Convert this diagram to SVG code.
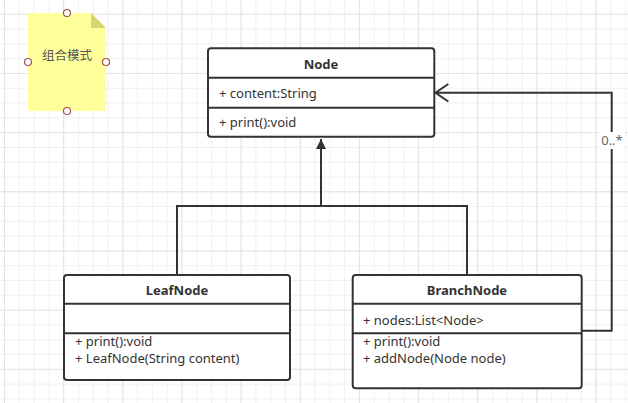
<svg xmlns="http://www.w3.org/2000/svg" width="628" height="403" viewBox="0 0 628 403">
<defs>
<pattern id="minor" x="4" y="13.8" width="14.79" height="14.79" patternUnits="userSpaceOnUse">
<path d="M0.5 0V14.79M0 0.5H14.79" stroke="#f0f0f0" stroke-width="1" fill="none"/>
</pattern>
<pattern id="major" x="4" y="13.8" width="59.16" height="59.16" patternUnits="userSpaceOnUse">
<path d="M0.5 0V59.16M0 0.5H59.16" stroke="#e4e4e4" stroke-width="1" fill="none"/>
</pattern>
<marker id="tri" viewBox="0 0 10 10" refX="10" refY="5" markerWidth="10" markerHeight="10" markerUnits="userSpaceOnUse" orient="auto">
<path d="M0 0L10 5L0 10Z" fill="#333"/>
</marker>
</defs>
<style>
.box{fill:#fff;stroke:#333;stroke-width:2}
.div{stroke:#333;stroke-width:2}
.t{font-family:"Noto Sans","Noto Sans CJK SC",sans-serif;font-size:13px;fill:#333}
.b{font-weight:bold;text-anchor:middle}
.edge{fill:none;stroke:#333;stroke-width:2}
.h{fill:#fff;stroke:#a05050;stroke-width:1.2}
</style>
<rect width="628" height="403" fill="#fff"/>
<rect width="628" height="403" fill="url(#minor)"/>
<rect width="628" height="403" fill="url(#major)"/>

<g id="note">
<path d="M28 13H91L106 28V111H28Z" fill="#ffff9c"/>
<path d="M91 13L106 28H91Z" fill="#d6d66e"/>
<text class="t" x="67" y="59.5" text-anchor="middle" style="fill:#555;font-size:12.5px">组合模式</text>
<circle class="h" cx="67" cy="13" r="3.5"/>
<circle class="h" cx="28" cy="62" r="3.5"/>
<circle class="h" cx="106" cy="62" r="3.5"/>
<circle class="h" cx="67" cy="111" r="3.5"/>
</g>

<g id="connectors">
<path class="edge" d="M177 275V206H467V275"/>
<path class="edge" d="M321 206V139" marker-end="url(#tri)"/>
<path class="edge" d="M582 330.7H611.7V92.7H436"/>
<path class="edge" d="M448.3 84L435.5 92.7L448.3 101.5"/>
<rect x="599" y="132" width="26" height="17" fill="#fff"/>
<text class="t" x="612" y="145" text-anchor="middle" style="fill:#666">0..*</text>
</g>

<g id="Node">
<rect class="box" x="208" y="48.3" width="226.3" height="88.4" rx="3"/>
<line class="div" x1="208" y1="77.7" x2="434.3" y2="77.7"/>
<line class="div" x1="208" y1="107.7" x2="434.3" y2="107.7"/>
<text class="t b" x="321" y="68.5">Node</text>
<text class="t" x="219" y="97.5">+ content:String</text>
<text class="t" x="219" y="126.5">+ print():void</text>
</g>

<g id="LeafNode">
<rect class="box" x="64" y="275" width="226" height="105" rx="3"/>
<line class="div" x1="64" y1="303.7" x2="290" y2="303.7"/>
<line class="div" x1="64" y1="333.3" x2="290" y2="333.3"/>
<text class="t b" x="177" y="294.5">LeafNode</text>
<text class="t" x="75" y="346">+ print():void</text>
<text class="t" x="75" y="362.5">+ LeafNode(String content)</text>
</g>

<g id="BranchNode">
<rect class="box" x="352.7" y="275" width="229" height="113.3" rx="3"/>
<line class="div" x1="352.7" y1="303.7" x2="581.7" y2="303.7"/>
<line class="div" x1="352.7" y1="333.3" x2="581.7" y2="333.3"/>
<text class="t b" x="467" y="294.5">BranchNode</text>
<text class="t" x="363" y="324.5">+ nodes:List&lt;Node&gt;</text>
<text class="t" x="363" y="346">+ print():void</text>
<text class="t" x="363" y="362.5">+ addNode(Node node)</text>
</g>
</svg>
